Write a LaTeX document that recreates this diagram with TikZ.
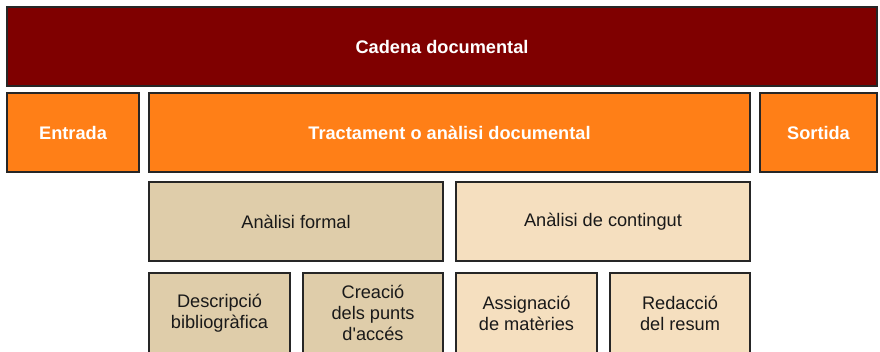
\documentclass[tikz,border=0pt]{standalone}
\usepackage{fontspec}
\setmainfont{Liberation Sans}
\definecolor{darkred}{HTML}{7F0000}
\definecolor{orng}{HTML}{FF7F17}
\definecolor{tan}{HTML}{DFCDAA}
\definecolor{lighttan}{HTML}{F5DFBF}
\definecolor{edge}{HTML}{262626}
\begin{document}
\begin{tikzpicture}[x=1pt,y=-1pt,
  box/.style={draw=edge,line width=1.4pt,anchor=north west,inner sep=0pt,outer sep=0pt,
    align=center,font=\fontsize{18.2}{21}\selectfont},
  head/.style={box,text=white,font=\fontsize{18.2}{21}\selectfont\bfseries},
  top/.style={head,fill=darkred},
  mid/.style={head,fill=orng},
  fbox/.style={box,fill=tan,text=black!90},
  cbox/.style={box,fill=lighttan,text=black!90}]
\useasboundingbox (0,0) rectangle (880,351);
\clip (0,0) rectangle (880,351);
\fill[white] (0,0) rectangle (880,351);
\node[top,minimum width=870pt,minimum height=79pt] (cadena) at (7,7) {Cadena documental};
\node[mid,minimum width=132pt,minimum height=79pt] (entrada) at (7,93) {Entrada};
\node[mid,minimum width=601pt,minimum height=79pt] (tract) at (149,93) {Tractament o anàlisi documental};
\node[mid,minimum width=117pt,minimum height=79pt] (sortida) at (760,93) {Sortida};
\node[fbox,minimum width=294pt,minimum height=79pt] (formal) at (149,182) {Anàlisi formal};
\node[cbox,minimum width=294pt,minimum height=79pt] (contingut) at (456,182) {Anàlisi de contingut};
\node[fbox,minimum width=141pt,minimum height=80pt] (desc) at (149,273) {Descripció\\bibliogràfica};
\node[fbox,minimum width=140pt,minimum height=80pt] (creacio) at (303,273) {Creació\\dels punts\\d\textquotesingle accés};
\node[cbox,minimum width=141pt,minimum height=80pt] (assign) at (456,273) {Assignació\\de matèries};
\node[cbox,minimum width=140pt,minimum height=80pt] (redac) at (610,273) {Redacció\\del resum};
\end{tikzpicture}
\end{document}
